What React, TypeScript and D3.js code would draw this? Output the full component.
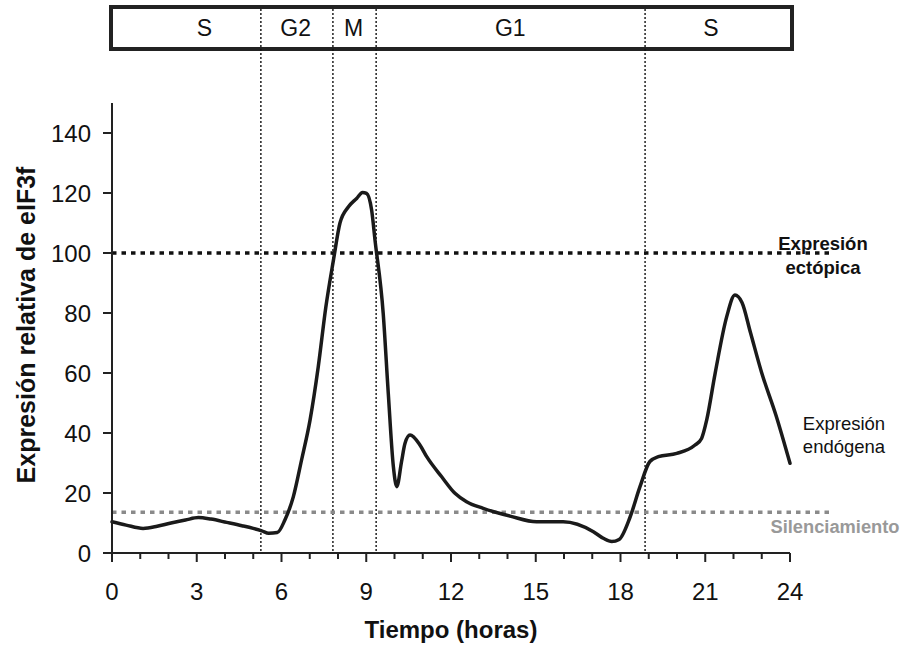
import React from "react";
import * as d3 from "d3";

const hours = [0, 0.5, 1.1, 1.6, 2.05, 2.6, 3.06, 3.5, 4.06, 4.6, 5.0, 5.3, 5.55, 5.85, 6.12, 6.42, 6.71, 7.01, 7.3, 7.57, 7.84, 8.07, 8.37, 8.66, 8.87, 9.01, 9.19, 9.31, 9.6, 9.78, 9.96, 10.08, 10.25, 10.37, 10.55, 10.9, 11.14, 11.67, 12.14, 12.55, 13.14, 14.09, 15.03, 15.97, 17.04, 17.39, 17.69, 17.95, 18.34, 18.69, 19.04, 19.34, 19.99, 20.64, 20.87, 21.05, 21.35, 21.76, 22.05, 22.3, 22.6, 23.0, 23.5, 24];
const expression = [10.4, 9.3, 8.2, 8.9, 9.9, 11, 11.8, 11.3, 10.2, 9.1, 8.2, 7.4, 6.6, 6.8, 11, 18.8, 31, 44.3, 62, 82, 97.7, 110, 115.4, 118.2, 120.2, 119.9, 114.3, 104.3, 79.9, 53.2, 28.8, 22.1, 30.5, 36.5, 39.3, 36, 32.1, 25.4, 19.9, 17.1, 14.9, 12.3, 10.4, 10.4, 7.1, 4.9, 3.8, 4.5, 12, 22.1, 30.5, 32.1, 33.2, 36, 38.2, 44.3, 59.9, 78.8, 86, 83.5, 73.5, 60, 46, 29.9];

const yTicks = [0, 20, 40, 60, 80, 100, 120, 140];
const xTicks = [0, 3, 6, 9, 12, 15, 18, 21, 24];
const xMinorTicks = d3.range(0, 25, 1);

const phaseBounds = [5.27, 7.82, 9.35, 18.87];
const phaseLabels = ["S", "G2", "M", "G1", "S"];
const phaseLabelPos = [3.27, 6.5, 8.55, 14.1, 21.2];

const ectopicLevel = 100;
const silencingLevel = 13.6;
const refLineEnd = 25.4;

const FONT = "'Liberation Sans', Arial, Helvetica, sans-serif";

export default function App() {
  const x = d3.scaleLinear().domain([0, 24]).range([112, 790]);
  const y = d3.scaleLinear().domain([0, 150]).range([553, 103]);

  const pts: [number, number][] = hours.map((h, i) => [h, expression[i]]);
  const line = d3
    .line<[number, number]>()
    .x((d) => x(d[0]))
    .y((d) => y(d[1]))
    .curve(d3.curveMonotoneX);

  const barTop = 7;
  const barBottom = 49;

  return (
    <svg
      width={902}
      height={648}
      style={{ position: "absolute", left: 0, top: 0, background: "#fff" }}
      fontFamily={FONT}
    >
      {/* phase bar */}
      <rect x={x(0) - 1} y={barTop} width={x(24) - x(0) + 3} height={barBottom - barTop} fill="none" stroke="#222" strokeWidth={4} />
      {phaseLabels.map((l, i) => (
        <text key={i} x={x(phaseLabelPos[i])} y={36} textAnchor="middle" fontSize={23} fill="#111">
          {l}
        </text>
      ))}
      {phaseBounds.map((b, i) => (
        <line key={i} x1={x(b)} x2={x(b)} y1={barTop + 2} y2={y(0)} stroke="#111" strokeWidth={1.4} strokeDasharray="2 2" />
      ))}

      {/* reference lines */}
      <line x1={x(0)} x2={x(refLineEnd)} y1={y(ectopicLevel)} y2={y(ectopicLevel)} stroke="#111" strokeWidth={3.5} strokeDasharray="4.5 5" />
      <line x1={x(0)} x2={x(refLineEnd)} y1={y(silencingLevel)} y2={y(silencingLevel)} stroke="#8a8a8a" strokeWidth={3.5} strokeDasharray="4.5 5" />

      {/* curve */}
      <path d={line(pts) || ""} fill="none" stroke="#1a1a1a" strokeWidth={3.5} strokeLinejoin="round" strokeLinecap="round" />

      {/* y axis */}
      <line x1={x(0)} x2={x(0)} y1={y(150)} y2={y(0)} stroke="#222" strokeWidth={2} />
      {yTicks.map((t) => (
        <g key={t}>
          <line x1={x(0) - 9} x2={x(0)} y1={y(t)} y2={y(t)} stroke="#222" strokeWidth={2} />
          <text x={91} y={y(t) + 8.5} textAnchor="end" fontSize={24} fill="#111">
            {t}
          </text>
        </g>
      ))}

      {/* x axis */}
      <line x1={x(0) - 9} x2={x(24)} y1={y(0)} y2={y(0)} stroke="#222" strokeWidth={2} />
      {xMinorTicks.map((t) => (
        <line key={t} x1={x(t)} x2={x(t)} y1={y(0)} y2={y(0) + (t % 3 === 0 ? 9 : 6)} stroke="#222" strokeWidth={2} />
      ))}
      {xTicks.map((t) => (
        <text key={t} x={x(t)} y={600} textAnchor="middle" fontSize={24} fill="#111">
          {t}
        </text>
      ))}

      {/* axis titles */}
      <text x={451} y={638} textAnchor="middle" fontSize={24} fontWeight="bold" fill="#111">
        Tiempo (horas)
      </text>
      <text transform="translate(35,325) rotate(-90)" textAnchor="middle" fontSize={25} fontWeight="bold" fill="#111">
        Expresión relativa de eIF3f
      </text>

      {/* annotations */}
      <text x={823} y={250} textAnchor="middle" fontSize={18.5} fontWeight="bold" fill="#111">Expresión</text>
      <text x={823} y={274} textAnchor="middle" fontSize={18.5} fontWeight="bold" fill="#111">ectópica</text>
      <text x={844} y={430} textAnchor="middle" fontSize={18.5} fill="#111">Expresión</text>
      <text x={844} y={453} textAnchor="middle" fontSize={18.5} fill="#111">endógena</text>
      <text x={835} y={533} textAnchor="middle" fontSize={18.3} fontWeight="bold" fill="#999">Silenciamiento</text>
    </svg>
  );
}
